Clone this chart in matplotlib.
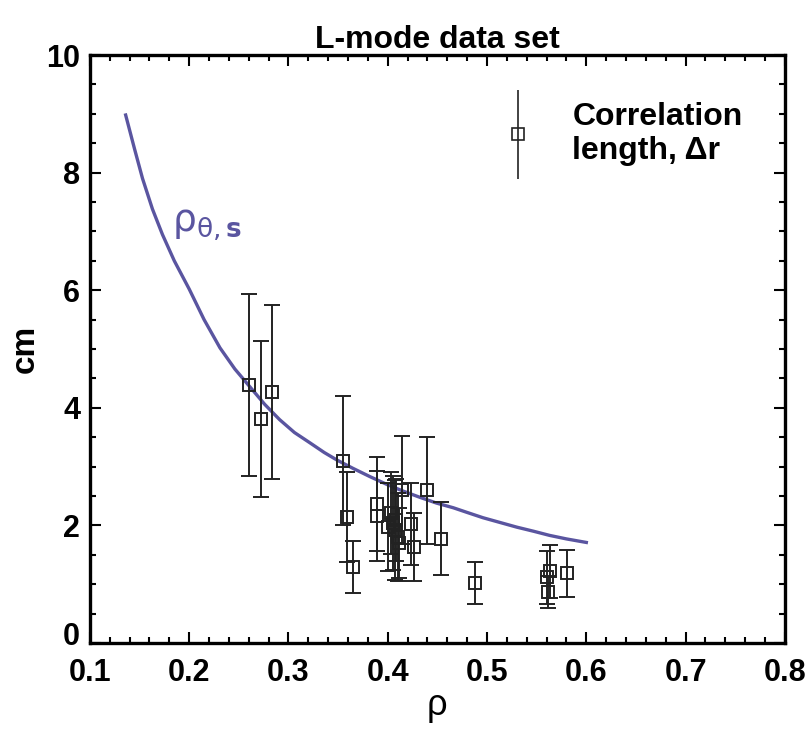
import matplotlib
matplotlib.use('Agg')
import matplotlib.pyplot as plt
import matplotlib.transforms as mtransforms
from matplotlib.legend_handler import HandlerErrorbar

plt.rcParams['font.family'] = ['Liberation Sans Narrow', 'Liberation Sans', 'DejaVu Sans']
plt.rcParams['mathtext.fontset'] = 'dejavusans'

# correlation length data
rho = [0.260, 0.272, 0.283, 0.355, 0.359, 0.365, 0.389, 0.389, 0.400, 0.403,
       0.405, 0.407, 0.408, 0.410, 0.411, 0.414, 0.423, 0.426, 0.440, 0.454,
       0.488, 0.560, 0.561, 0.563, 0.581]
dr = [4.39, 3.81, 4.27, 3.10, 2.14, 1.29, 2.36, 2.16, 1.97, 2.21,
      2.04, 1.92, 2.09, 1.80, 1.70, 2.60, 2.02, 1.63, 2.60, 1.77,
      1.02, 1.12, 0.87, 1.22, 1.19]
dr_err = [1.55, 1.32, 1.48, 1.10, 0.77, 0.44, 0.80, 0.77, 0.75, 0.70,
          0.80, 0.85, 0.70, 0.75, 0.60, 0.92, 0.70, 0.58, 0.91, 0.62,
          0.35, 0.45, 0.27, 0.45, 0.40]

# rho_theta,s curve
rho_curve = [0.136, 0.145, 0.153, 0.163, 0.173, 0.185, 0.200, 0.215, 0.231, 0.246,
             0.261, 0.276, 0.291, 0.306, 0.322, 0.336, 0.349, 0.365, 0.382, 0.400,
             0.416, 0.432, 0.449, 0.466, 0.480, 0.496, 0.513, 0.530, 0.547, 0.563,
             0.580, 0.600]
rhos_curve = [8.98, 8.40, 7.90, 7.38, 6.95, 6.50, 6.02, 5.50, 5.02, 4.66,
              4.36, 4.06, 3.80, 3.58, 3.40, 3.24, 3.11, 2.97, 2.83, 2.69,
              2.58, 2.48, 2.38, 2.30, 2.22, 2.13, 2.05, 1.97, 1.90, 1.83,
              1.77, 1.71]

curve_color = '#5a55a0'

fig = plt.figure(figsize=(8.1, 7.34), dpi=100)
ax = fig.add_axes([0.111, 0.124, 0.858, 0.801])

ax.plot(rho_curve, rhos_curve, color=curve_color, lw=2.4, zorder=2)
ax.errorbar(rho, dr, yerr=dr_err, fmt='s', mfc='none', mec='#222222', ms=9, mew=1.4,
            ecolor='#222222', elinewidth=1.4, capsize=6, capthick=1.4, zorder=3)

# proxy for legend (no caps)
proxy = ax.errorbar([], [], yerr=[], fmt='s', mfc='none', mec='#222222', ms=8, mew=1.2,
                    ecolor='#222222', elinewidth=1.2, capsize=0)
ax.legend([proxy], ['Correlation\nlength, \u0394r'], loc='upper right',
          frameon=False, prop={'weight': 'bold', 'size': 23},
          handler_map={type(proxy): HandlerErrorbar(yerr_size=1.4)},
          handlelength=0.6, handletextpad=1.4, borderaxespad=0.6,
          bbox_to_anchor=(0.985, 0.975))

ax.text(0.183, 7.0, r'$\mathrm{\rho}_{\mathrm{\theta},\mathbf{s}}$', color=curve_color,
        fontsize=27)

ax.set_xlim(0.1, 0.8)
ax.set_ylim(0, 10)
ax.set_xticks([0.1, 0.2, 0.3, 0.4, 0.5, 0.6, 0.7, 0.8])
ax.set_xticks([0.1 + 0.02 * i for i in range(36)], minor=True)
ax.set_yticks([0, 2, 4, 6, 8, 10])
ax.set_yticks([0.5 * i for i in range(21)], minor=True)
ax.tick_params(which='both', direction='in', top=True, right=True, width=1.5)
ax.tick_params(which='major', length=8, labelsize=22)
ax.tick_params(axis='x', which='major', pad=11)
ax.tick_params(axis='y', which='major', pad=7)
ax.tick_params(which='minor', length=4)
for lab in ax.get_xticklabels() + ax.get_yticklabels():
    lab.set_fontweight('bold')
# nudge the "0" label up a little like in the original
ylabs = ax.get_yticklabels()
ylabs[0].set_transform(ylabs[0].get_transform() +
                       mtransforms.ScaledTranslation(0, 7 / 72, fig.dpi_scale_trans))
for s in ax.spines.values():
    s.set_linewidth(2.4)

ax.set_title('L-mode data set', fontsize=23, fontweight='bold', pad=5)
ax.set_ylabel('cm', fontsize=24, fontweight='bold', labelpad=4)
ax.set_xlabel('\u03c1', fontsize=26, labelpad=0)

fig.savefig('out.png', dpi=100)
